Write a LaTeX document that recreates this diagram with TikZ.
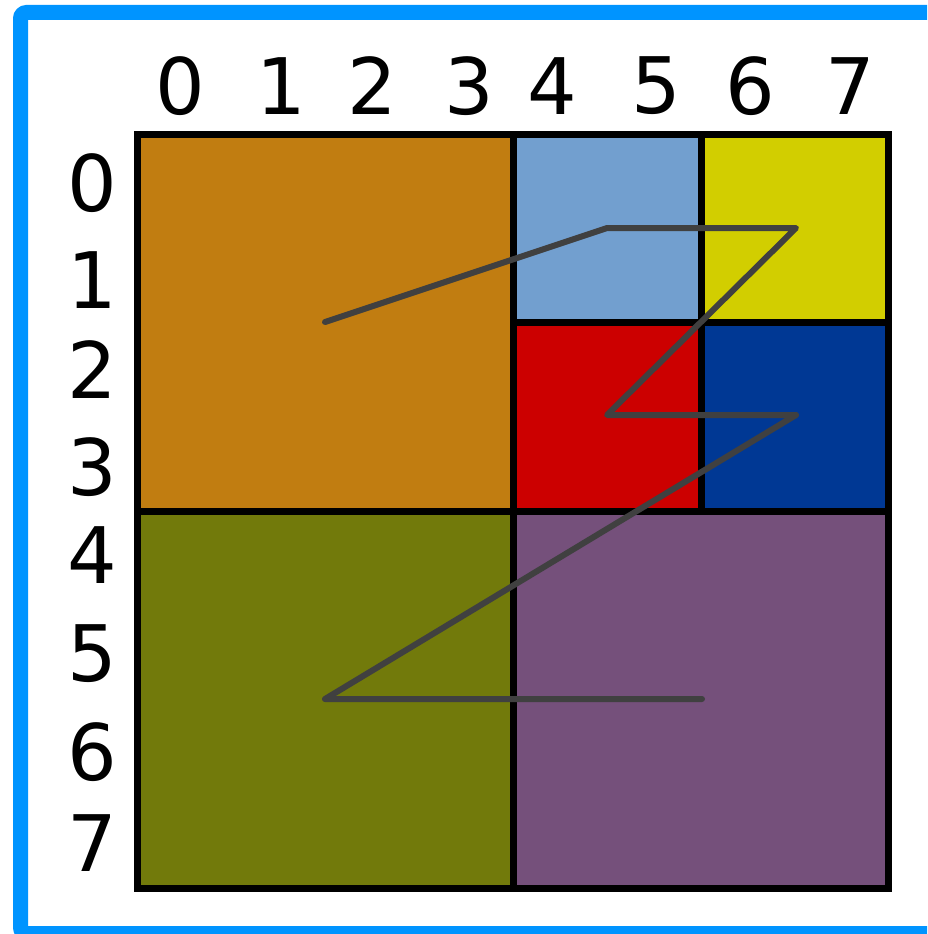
\documentclass[tikz,border=0pt]{standalone}
\usepackage{fontspec}
\setmainfont{DejaVu Sans}
\definecolor{framecol}{HTML}{0094FF}
\definecolor{cOrange}{HTML}{C17D11}
\definecolor{cSky}{HTML}{729FCF}
\definecolor{cYellow}{HTML}{D2CE00}
\definecolor{cRed}{HTML}{CC0000}
\definecolor{cNavy}{HTML}{003894}
\definecolor{cOlive}{HTML}{727A0B}
\definecolor{cPlum}{HTML}{75507B}
\definecolor{zcol}{HTML}{404040}
\tikzset{
  blockbox/.style={draw=black, line width=7pt},
  lbl/.style={inner sep=0pt, anchor=center, font=\fontsize{78}{78}\selectfont},
  zline/.style={draw=zcol, line width=6pt, line cap=round, line join=round}
}
\begin{document}
\begin{tikzpicture}[x=1pt,y=-1pt]
\useasboundingbox (0,0) rectangle (927,934);
\clip (0,0) rectangle (927,934);
\fill[white] (0,0) rectangle (927,934);
% blue frame (partly cut off at right and bottom)
\draw[framecol, line width=15pt, rounded corners=6pt] (20.5,12.5) rectangle (945,933.5);
% blocks
\filldraw[blockbox, fill=cOrange] (137,134) rectangle (513,511);
\filldraw[blockbox, fill=cSky] (513,134) rectangle (701,322);
\filldraw[blockbox, fill=cYellow] (701,134) rectangle (888,322);
\filldraw[blockbox, fill=cRed] (513,322) rectangle (701,511);
\filldraw[blockbox, fill=cNavy] (701,322) rectangle (888,511);
\filldraw[blockbox, fill=cOlive] (137,511) rectangle (513,888);
\filldraw[blockbox, fill=cPlum] (513,511) rectangle (888,888);
% Z-order curve
\coordinate (p1) at (325,322);
\coordinate (p2) at (607,228);
\coordinate (p3) at (796,228);
\coordinate (p4) at (607,415);
\coordinate (p5) at (796,415);
\coordinate (p6) at (325,699);
\coordinate (p7) at (702,699);
\draw[zline] (p1) -- (p2) -- (p3) -- (p4) -- (p5) -- (p6) -- (p7);
% column labels
\node[lbl] (c0) at (180,86) {0};
\node[lbl] (c1) at (281,86) {1};
\node[lbl] (c2) at (372,86) {2};
\node[lbl] (c3) at (469,86) {3};
\node[lbl] (c4) at (552.5,86) {4};
\node[lbl] (c5) at (656,86) {5};
\node[lbl] (c6) at (750,86) {6};
\node[lbl] (c7) at (850,86) {7};
% row labels
\node[lbl] (r0) at (92,183.5) {0};
\node[lbl] (r1) at (92,280) {1};
\node[lbl] (r2) at (92,370) {2};
\node[lbl] (r3) at (92,467.5) {3};
\node[lbl] (r4) at (92,555) {4};
\node[lbl] (r5) at (92,654) {5};
\node[lbl] (r6) at (92,752.5) {6};
\node[lbl] (r7) at (92,843) {7};
\end{tikzpicture}
\end{document}
